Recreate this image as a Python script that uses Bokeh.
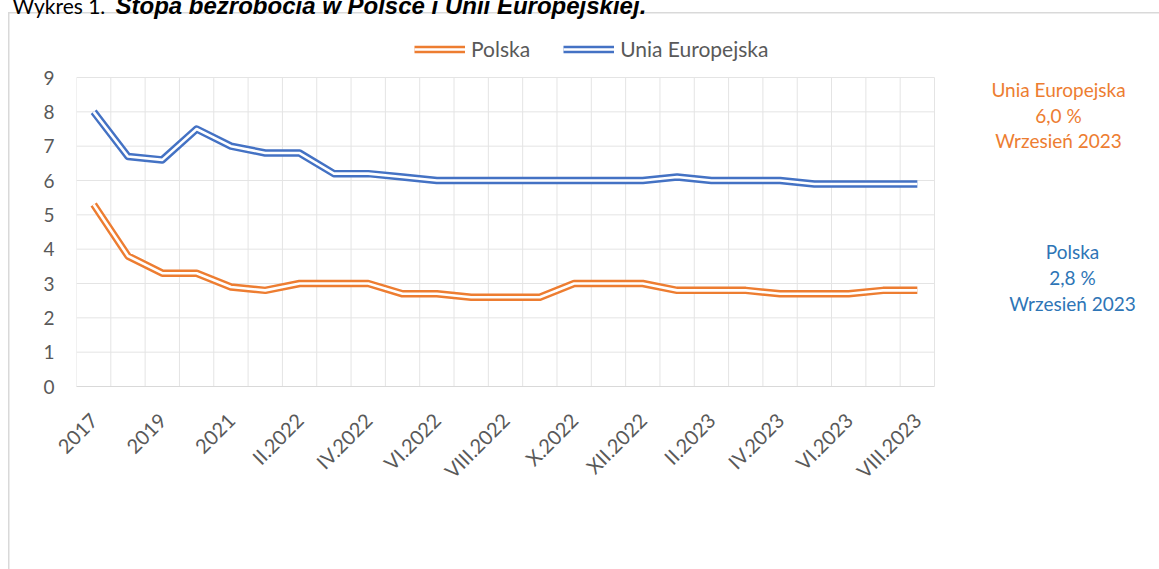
from math import pi
from bokeh.plotting import figure
from bokeh.models import (Range1d, FixedTicker, CustomJSTickFormatter, Legend,
                          LegendItem, Label)
from bokeh.core.properties import value
from bokeh.embed import file_html
from bokeh.resources import INLINE

# ---------------- data ----------------
categories = ["2017", "2018", "2019", "2020", "2021",
              "I.2022", "II.2022", "III.2022", "IV.2022", "V.2022", "VI.2022",
              "VII.2022", "VIII.2022", "IX.2022", "X.2022", "XI.2022", "XII.2022",
              "I.2023", "II.2023", "III.2023", "IV.2023", "V.2023", "VI.2023",
              "VII.2023", "VIII.2023"]
polska = [5.3, 3.8, 3.3, 3.3, 2.9, 2.8, 3.0, 3.0, 3.0, 2.7, 2.7, 2.6, 2.6, 2.6,
          3.0, 3.0, 3.0, 2.8, 2.8, 2.8, 2.7, 2.7, 2.7, 2.8, 2.8]
unia = [8.0, 6.7, 6.6, 7.5, 7.0, 6.8, 6.8, 6.2, 6.2, 6.1, 6.0, 6.0, 6.0, 6.0,
        6.0, 6.0, 6.0, 6.1, 6.0, 6.0, 6.0, 5.9, 5.9, 5.9, 5.9]
y_ticks = [0, 1, 2, 3, 4, 5, 6, 7, 8, 9]
series_names = ["Polska", "Unia Europejska"]
note_ue = ["Unia Europejska", "6,0 %", "Wrzesień 2023"]
note_pl = ["Polska", "2,8 %", "Wrzesień 2023"]
title_a = "Wykres 1."
title_b = "Stopa bezrobocia w Polsce i Unii Europejskiej."

# ---------------- layout ----------------
W, H = 1159, 569
PL, PR, PT, PB = 76, 934, 77, 386      # plot area in pixels
n = len(categories)
YMAX = 9

ORANGE = "#ED7D31"
BLUE = "#4472C4"
BLUE_TXT = "#2E75B6"
GRAY_TXT = "#595959"
GRID = "#e4e4e4"
FONT = "Lato"


def dx(px):
    return (px - PL) * n / (PR - PL)


def dy(py):
    return (PB - py) * YMAX / (PB - PT)


# the frame spans the whole canvas to the right of the y axis and above the x axis
p = figure(width=W, height=H, x_range=Range1d(0, dx(W)), y_range=Range1d(0, dy(0)),
           output_backend="svg", toolbar_location=None,
           min_border_left=PL, min_border_right=0,
           min_border_top=0, min_border_bottom=H - PB)
p.outline_line_color = None
p.background_fill_color = None
p.border_fill_color = None
p.styles = {
    "background-color": "white",
    "background-image": "linear-gradient(#d9d9d9, #d9d9d9), linear-gradient(#d9d9d9, #d9d9d9)",
    "background-size": "1.5px 100%, 100% 1.5px",
    "background-position": "8px 12px, 8px 12px",
    "background-repeat": "no-repeat",
}
p.xgrid.visible = False
p.ygrid.visible = False

# grid lines (category boundaries and value ticks)
gx = list(range(n + 1))
p.segment(x0=gx, y0=[0] * len(gx), x1=gx, y1=[YMAX] * len(gx),
          line_color=GRID, line_width=1)
p.segment(x0=[0] * len(y_ticks), y0=y_ticks, x1=[n] * len(y_ticks), y1=y_ticks,
          line_color=GRID, line_width=1)

# x axis
xa = p.xaxis[0]
xa.bounds = (0, n)
xa.ticker = FixedTicker(ticks=[i + 0.5 for i in range(0, n, 2)])
xa.formatter = CustomJSTickFormatter(args=dict(labels=categories),
                                     code="return labels[Math.floor(tick)];")
xa.major_label_orientation = pi / 4
xa.major_tick_line_color = None
xa.minor_tick_line_color = None
xa.axis_line_color = "#d9d9d9"
xa.major_label_text_font = FONT
xa.major_label_text_font_size = "20px"
xa.major_label_text_color = GRAY_TXT
xa.major_label_standoff = 24

# y axis
ya = p.yaxis[0]
ya.bounds = (0, YMAX)
ya.ticker = FixedTicker(ticks=y_ticks)
ya.axis_line_color = None
ya.major_tick_line_color = None
ya.minor_tick_line_color = None
ya.major_label_text_font = FONT
ya.major_label_text_font_size = "19px"
ya.major_label_text_color = GRAY_TXT
ya.major_label_standoff = 16

# double lines
xs = [i + 0.5 for i in range(n)]
items = []
for name, vals, col in ((series_names[0], polska, ORANGE), (series_names[1], unia, BLUE)):
    r1 = p.line(xs, vals, line_color=col, line_width=7.5, line_join="round")
    r2 = p.line(xs, vals, line_color="white", line_width=2.6, line_join="round")
    items.append(LegendItem(label=name, renderers=[r1, r2]))

legend = Legend(items=items, orientation="horizontal",
                location=(414 - PL, PB - 61),
                glyph_width=51, glyph_height=20, label_standoff=6, spacing=33,
                padding=0, margin=0, border_line_color=None,
                background_fill_alpha=0,
                label_text_font=FONT, label_text_font_size="21px",
                label_text_color=GRAY_TXT)
p.add_layout(legend)

# notes on the right
for txt, base in zip(note_ue, [89, 115, 140]):
    p.add_layout(Label(x=dx(1058), y=dy(base), text=txt, text_align="center",
                       text_baseline="alphabetic", text_font=FONT,
                       text_font_size="19px", text_color=ORANGE))
for txt, base in zip(note_pl, [251, 277, 303]):
    p.add_layout(Label(x=dx(1072), y=dy(base), text=txt, text_align="center",
                       text_baseline="alphabetic", text_font=FONT,
                       text_font_size="19px", text_color=BLUE_TXT))

# document title (cut at the top of the page)
p.text(x=[dx(12)], y=[dy(5)], text=[title_a], text_align="left",
       text_baseline="alphabetic", text_font=value(FONT),
       text_font_size="21px", text_color="black", level="overlay")
p.text(x=[dx(115)], y=[dy(5)], text=[title_b], text_align="left",
       text_baseline="alphabetic", text_font=value("Liberation Sans"),
       text_font_size="24px", text_font_style="bold italic",
       text_color="black", level="overlay")

open("out.html", "w").write(file_html(p, INLINE))
